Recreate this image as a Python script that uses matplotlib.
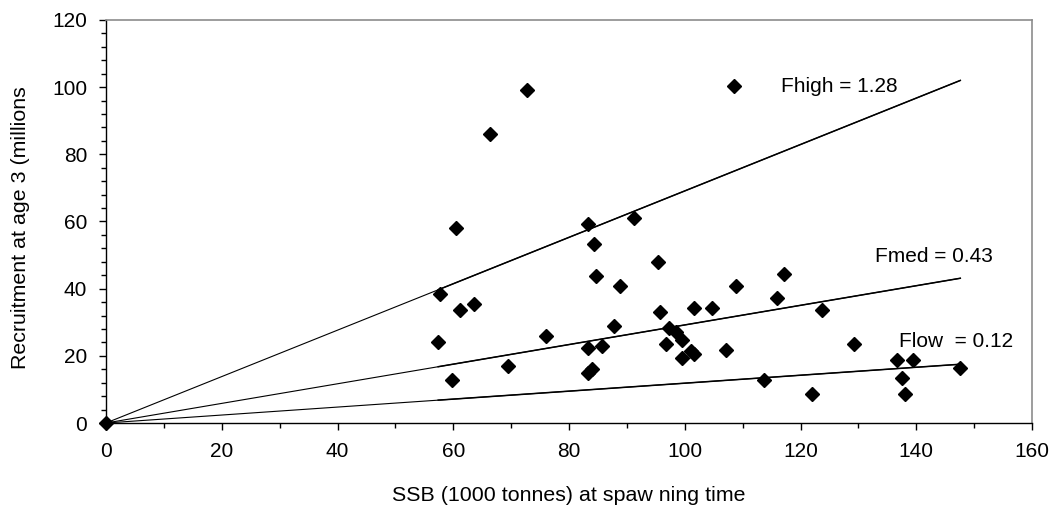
import matplotlib.pyplot as plt
from matplotlib.ticker import MultipleLocator

plt.rcParams['font.family'] = ['Liberation Sans', 'DejaVu Sans']

# SSB (1000 tonnes) and recruitment at age 3 (millions)
ssb = [0, 72.8, 66.4, 60.5, 108.5, 83.3, 91.2, 57.7, 61.2, 63.6, 57.4, 76.0,
       69.5, 59.8, 84.3, 84.7, 88.8, 95.3, 95.7, 87.8, 83.3, 85.7, 83.3, 84.0,
       97.2, 98.5, 96.8, 99.5, 99.5, 101.1, 101.6, 101.6, 104.7, 108.9, 107.1,
       116.0, 117.1, 113.7, 122.0, 123.7, 129.2, 136.6, 139.4, 137.5, 138.0,
       147.6]
recruits = [0, 99.2, 86.0, 58.0, 100.3, 59.3, 61.0, 38.4, 33.6, 35.3, 24.0,
            25.9, 17.0, 12.7, 53.3, 43.7, 40.8, 47.8, 33.0, 28.9, 22.3, 22.9,
            15.0, 16.2, 28.4, 27.1, 23.5, 24.7, 19.4, 21.5, 20.5, 34.3, 34.3,
            40.8, 21.7, 37.2, 44.5, 12.8, 8.6, 33.6, 23.5, 18.8, 18.8, 13.3,
            8.7, 16.3]

# replacement lines: recruitment at the largest SSB for each F
f_labels = ['Fhigh = 1.28', 'Fmed = 0.43', 'Flow  = 0.12']
f_end_rec = [102.0, 43.1, 17.5]
f_label_pos = [(116.7, 100.1), (132.9, 49.5), (137.0, 24.2)]

fig = plt.figure(figsize=(10.64, 5.11), dpi=100)
ax = fig.add_axes([0.0996, 0.1722, 0.8704, 0.7887])

ssb_min = min(s for s in ssb if s > 0)
ssb_max = max(ssb)
for end_rec, label, pos in zip(f_end_rec, f_labels, f_label_pos):
    slope = end_rec / ssb_max
    # line from the origin plus the overlapping one over the data range
    ax.plot([0, ssb_max], [0, slope * ssb_max], color='black', lw=0.8)
    ax.plot([ssb_min, ssb_max], [slope * ssb_min, slope * ssb_max], color='black', lw=1.1)
    ax.text(pos[0], pos[1], label, fontsize=15, ha='left', va='center')

ax.plot(ssb, recruits, linestyle='none', marker='D', markersize=6.8,
        color='black', clip_on=False, zorder=3)

ax.set_xlim(0, 160)
ax.set_ylim(0, 120)
ax.xaxis.set_major_locator(MultipleLocator(20))
ax.xaxis.set_minor_locator(MultipleLocator(10))
ax.yaxis.set_major_locator(MultipleLocator(20))
ax.yaxis.set_minor_locator(MultipleLocator(4))
ax.tick_params(which='major', direction='out', length=5, width=1, labelsize=15, pad=8.5, color='black')
ax.tick_params(which='minor', direction='out', length=3.5, width=1, color='black')

for side in ['top', 'right']:
    ax.spines[side].set_color('#8c8c8c')
    ax.spines[side].set_linewidth(1.2)
for side in ['left', 'bottom']:
    ax.spines[side].set_color('black')
    ax.spines[side].set_linewidth(1.0)

fig.text(0.5348, 0.030, 'SSB (1000 tonnes) at spaw ning time', fontsize=15.4, ha='center', va='center')
fig.text(0.0188, 0.554, 'Recruitment at age 3 (millions', fontsize=15.4, ha='center', va='center', rotation=90)

fig.savefig('out.png', dpi=100)
